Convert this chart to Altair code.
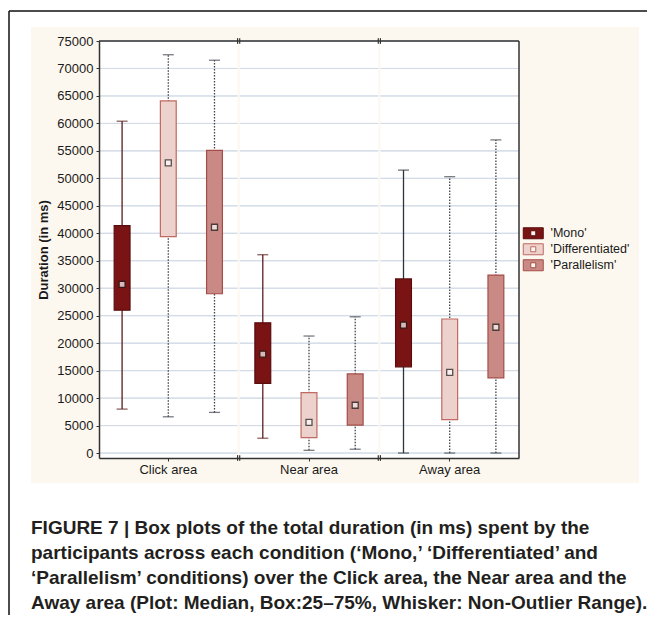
import altair as alt
import pandas as pd

# ---------------- data ----------------
areas = ["Click area", "Near area", "Away area"]
conditions = ["'Mono'", "'Differentiated'", "'Parallelism'"]

# order: for each area -> Mono, Differentiated, Parallelism
whisker_low = [8000, 6600, 7400, 2700, 500, 700, 0, 0, 0]
q1 = [26000, 39400, 29000, 12700, 2800, 5100, 15700, 6100, 13700]
median = [30700, 52800, 41100, 18000, 5600, 8700, 23300, 14700, 22900]
q3 = [41400, 64100, 55100, 23700, 11000, 14400, 31700, 24400, 32400]
whisker_high = [60400, 72500, 71500, 36100, 21300, 24800, 51500, 50300, 57000]

y_ticks = list(range(0, 75001, 5000))
y_min, y_max = -900, 75000

caption_lines = [
    "FIGURE 7 | Box plots of the total duration (in ms) spent by the",
    "participants across each condition (\u2018Mono,\u2019 \u2018Differentiated\u2019 and",
    "\u2018Parallelism\u2019 conditions) over the Click area, the Near area and the",
    "Away area (Plot: Median, Box:25\u201375%, Whisker: Non-Outlier Range).",
]

# ---------------- styles ----------------
fill_colors = ["#7a1414", "#ecd1cc", "#c98a86"]
stroke_colors = ["#5a0c0c", "#c06a62", "#a54c46"]
FONT = "Liberation Sans"
AX = "#333333"

rows = []
k = 0
for a in areas:
    for c in conditions:
        rows.append(dict(area=a, cond=c, lo=whisker_low[k], q1=q1[k], med=median[k],
                         q3=q3[k], hi=whisker_high[k]))
        k += 1
df = pd.DataFrame(rows)


def wcol(r):
    if r["cond"] == "'Mono'":
        return "#2f343c" if r["area"] == "Away area" else "#5a1e1c"
    return "#3e434c"


df["wcolor"] = df.apply(wcol, axis=1)
df["wdash"] = df["cond"].map(lambda c: "solid" if c == "'Mono'" else "dotted")

grid_df = pd.DataFrame([dict(area=a, gv=v) for a in areas for v in y_ticks])
one = pd.DataFrame({"k": [0]})
frame_df = pd.DataFrame({"area": [areas[-1]], "top": [y_max], "bot": [y_min]})
brk = 520  # half length of the axis-break marks, in data units
brk_right = pd.DataFrame({"area": areas[:-1]})
brk_left = pd.DataFrame({"area": areas[1:]})
for d in (brk_right, brk_left):
    d["b0"] = y_min - brk
    d["b1"] = y_min + brk
    d["t0"] = y_max - brk
    d["t1"] = y_max + brk

yscale = alt.Scale(domain=[y_min, y_max], nice=False, zero=False)
xscale = alt.Scale(domain=areas, paddingInner=0.015, paddingOuter=0)
xoff_scale = alt.Scale(domain=conditions, paddingInner=0.657, paddingOuter=0.3285)

xaxis = alt.Axis(labelFont=FONT, labelFontSize=13, labelColor="#1a1a1a", labelPadding=2,
                 tickSize=3, tickColor=AX, domainColor=AX, domainWidth=1.5,
                 labelAngle=0, zindex=1, grid=False)
yaxis = alt.Axis(values=y_ticks, labelFont=FONT, labelFontSize=13, labelColor="#1a1a1a",
                 labelPadding=3, tickSize=3, tickColor=AX, domainColor=AX,
                 domainWidth=1.5, titleFont=FONT, titleFontSize=13, titleFontWeight="bold",
                 titleColor="#1a1a1a", titlePadding=6, zindex=1, grid=False, format="d")


def X(band=None):
    if band is None:
        return alt.X("area:N", sort=areas, scale=xscale, title=None, axis=xaxis)
    return alt.X("area:N", sort=areas, scale=xscale, title=None, axis=xaxis, bandPosition=band)


def XO():
    return alt.XOffset("cond:N", sort=conditions, scale=xoff_scale)


def Y(f):
    return alt.Y(f"{f}:Q", scale=yscale, title="Duration (in ms)", axis=yaxis)


def Y2(f):
    return alt.Y2(f"{f}:Q")


dash = alt.StrokeDash("wdash:N", scale=alt.Scale(domain=["solid", "dotted"],
                                                 range=[[1, 0], [1.5, 1.5]]), legend=None)
wcolor = alt.Color("wcolor:N", scale=None, legend=None)

# decorations
cream = alt.Chart(one).mark_rect(color="#fdf8ef").encode(
    x=alt.value(-68), x2=alt.value(540), y=alt.value(-14), y2=alt.value(442))
frame_left = alt.Chart(one).mark_rule(color="#111", strokeWidth=1.5).encode(
    x=alt.value(-90), y=alt.value(-30), y2=alt.value(574))
frame_top = alt.Chart(one).mark_rule(color="#111", strokeWidth=1.5).encode(
    x=alt.value(-90), x2=alt.value(548), y=alt.value(-30))

panels = alt.Chart(pd.DataFrame({"area": areas, "top": [y_max] * 3, "bot": [y_min] * 3})).mark_rect(
    color="white").encode(x=X(), y=Y("top"), y2=Y2("bot"))

grid = alt.Chart(grid_df).mark_rect(fill=None, stroke="#d2dbe6", strokeWidth=1).encode(
    x=X(), y=Y("gv"), y2=Y2("gv"))

plot_top = alt.Chart(frame_df).mark_rule(color=AX, strokeWidth=1.5).encode(y=Y("top"))
plot_right = alt.Chart(frame_df).mark_rule(color=AX, strokeWidth=1.5).encode(
    x=X(1), y=Y("top"), y2=Y2("bot"))

brk_layers = []
for d, bp in ((brk_right, 1), (brk_left, 0)):
    for a, b in (("b0", "b1"), ("t0", "t1")):
        brk_layers.append(alt.Chart(d).mark_rule(color=AX, strokeWidth=1.2).encode(
            x=X(bp), y=Y(a), y2=Y2(b)))

whisk = alt.Chart(df).mark_rule(strokeWidth=1.3).encode(
    x=X(), xOffset=XO(), y=Y("lo"), y2=Y2("hi"), color=wcolor, strokeDash=dash)

cap_lo = alt.Chart(df).mark_tick(orient="horizontal", size=11, thickness=1.3).encode(
    x=X(), xOffset=XO(), y=Y("lo"), color=wcolor, strokeDash=dash)
cap_hi = alt.Chart(df).mark_tick(orient="horizontal", size=11, thickness=1.3).encode(
    x=X(), xOffset=XO(), y=Y("hi"), color=wcolor, strokeDash=dash)

legend = alt.Legend(title=None, orient="none", legendX=428, legendY=186, zindex=2,
                    symbolType="M-2,-1.1L2,-1.1L2,1.1L-2,1.1Z M-0.5,-0.5L-0.5,0.5L0.5,0.5L0.5,-0.5Z",
                    symbolSize=100, symbolStrokeWidth=1, labelFont=FONT, labelFontSize=12.5,
                    labelColor="#1a1a1a", labelOffset=11, rowPadding=0, padding=0)

boxes = alt.Chart(df).mark_bar(strokeWidth=1.2).encode(
    x=X(), xOffset=XO(), y=Y("q1"), y2=Y2("q3"),
    fill=alt.Fill("cond:N", sort=conditions,
                  scale=alt.Scale(domain=conditions, range=fill_colors), legend=legend),
    stroke=alt.Stroke("cond:N", sort=conditions,
                      scale=alt.Scale(domain=conditions, range=stroke_colors), legend=legend))

meds = alt.Chart(df).mark_square(size=36, filled=True, fill="white", stroke="#1a1a1a",
                                 strokeWidth=1.3).encode(x=X(), xOffset=XO(), y=Y("med"))

caption = alt.Chart(one).mark_text(
    text=caption_lines, align="left", baseline="alphabetic", font=FONT, fontWeight="bold",
    fontSize=19, lineHeight=25, color="#231f20").encode(x=alt.value(-68), y=alt.value(493))

chart = alt.layer(
    cream, frame_left, frame_top, panels, grid, *brk_layers, whisk, cap_lo, cap_hi, boxes, meds,
    plot_top, plot_right, caption
).properties(
    width=420, height=417,
    padding={"left": 0, "top": 2, "right": 0, "bottom": 0},
    background="white",
).configure_view(
    strokeWidth=0, fill="white"
)

chart.save("out.html", embed_options={"renderer": "svg", "actions": False})
